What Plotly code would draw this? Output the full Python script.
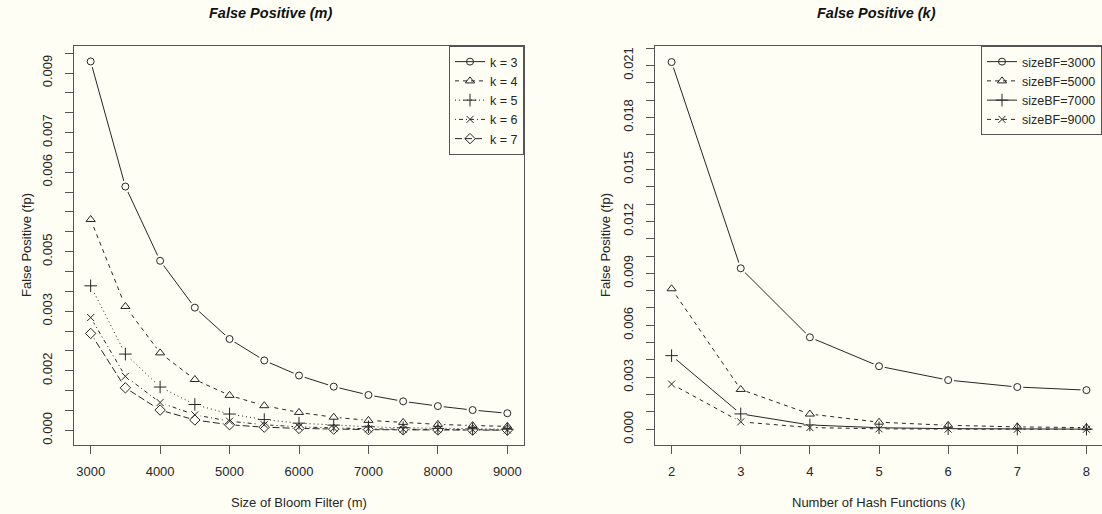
import plotly.graph_objects as go

# ---------------- data ----------------
m_values = [3000, 3500, 4000, 4500, 5000, 5500, 6000, 6500, 7000, 7500, 8000, 8500, 9000]
fp_k3 = [0.00929, 0.00614, 0.00427, 0.00309, 0.00230, 0.00176, 0.00138, 0.00110, 0.00089, 0.00073, 0.00061, 0.00051, 0.00043]
fp_k4 = [0.00531, 0.00312, 0.00195, 0.00128, 0.00088, 0.00062, 0.00045, 0.00033, 0.00025, 0.00020, 0.00015, 0.00012, 0.00010]
fp_k5 = [0.00364, 0.00192, 0.00109, 0.00065, 0.00041, 0.00027, 0.00018, 0.00013, 0.00009, 0.000065, 0.000049, 0.000037, 0.000028]
fp_k6 = [0.00284, 0.00136, 0.00070, 0.00039, 0.00023, 0.00014, 0.000086, 0.000056, 0.000038, 0.000026, 0.000018, 0.000013, 0.0000095]
fp_k7 = [0.00244, 0.00107, 0.00051, 0.00026, 0.00014, 0.000079, 0.000047, 0.000029, 0.000018, 0.000012, 0.0000079, 0.0000054, 0.0000037]
left_names = ["k = 3", "k = 4", "k = 5", "k = 6", "k = 7"]

k_values = [2, 3, 4, 5, 6, 7, 8]
fp_bf3000 = [0.02119, 0.00929, 0.00531, 0.00364, 0.00284, 0.00244, 0.00226]
fp_bf5000 = [0.00811, 0.00230, 0.00088, 0.00041, 0.00023, 0.00014, 0.000096]
fp_bf7000 = [0.00425, 0.00089, 0.00025, 0.00009, 0.000038, 0.000018, 0.0000098]
fp_bf9000 = [0.00261, 0.00043, 0.00010, 0.000028, 0.0000095, 0.0000037, 0.0000016]
right_names = ["sizeBF=3000", "sizeBF=5000", "sizeBF=7000", "sizeBF=9000"]

left_xticks = [3000, 4000, 5000, 6000, 7000, 8000, 9000]
left_ytick_vals = [0.0, 0.0005, 0.001, 0.0015, 0.002, 0.0025, 0.003, 0.0035, 0.004, 0.0045,
                   0.005, 0.0055, 0.006, 0.0065, 0.007, 0.0075, 0.008, 0.0085, 0.009, 0.0095]
left_ytick_text = ["0.000", "", "", "0.002", "", "", "0.003", "", "", "0.005",
                   "", "", "", "0.006", "", "0.007", "", "", "0.009", ""]
right_xticks = [2, 3, 4, 5, 6, 7, 8]
right_ytick_vals = [0.0, 0.001, 0.002, 0.003, 0.004, 0.005, 0.006, 0.007, 0.008, 0.009, 0.010, 0.011,
                    0.012, 0.013, 0.014, 0.015, 0.016, 0.017, 0.018, 0.019, 0.020, 0.021, 0.022]
right_ytick_text = ["0.000", "", "", "0.003", "", "", "0.006", "", "", "0.009", "", "",
                    "0.012", "", "", "0.015", "", "", "0.018", "", "", "0.021", ""]

# ---------------- style ----------------
BG = "#FEFEF4"
INK = "#262626"
AXC = "#555555"
FONT = "Liberation Sans, Arial, sans-serif"

SOLID, DASH, DOT, DOTDASH, LONGDASH = "solid", "4px,4px", "1px,3px", "1px,3px,4px,3px", "7px,3px"

left_series = [fp_k3, fp_k4, fp_k5, fp_k6, fp_k7]
left_dash = [SOLID, DASH, DOT, DOTDASH, LONGDASH]
left_sym = ["circle-open", "triangle-up-open", "cross-thin-open", "x-thin-open", "diamond-open"]
left_size = [7, 8, 9, 7, 8]

right_series = [fp_bf3000, fp_bf5000, fp_bf7000, fp_bf9000]
right_dash = [SOLID, DASH, SOLID, DASH]
right_sym = ["circle-open", "triangle-up-open", "cross-thin-open", "x-thin-open"]
right_size = [7, 8, 9, 7]

fig = go.Figure()


def add_group(xs, series, names, dashes, syms, sizes, xa, ya, legend):
    # lines with a background-coloured gap around every point (like R type="b")
    for ys, d in zip(series, dashes):
        fig.add_trace(go.Scatter(x=xs, y=ys, mode="lines", xaxis=xa, yaxis=ya,
                                 line=dict(color=INK, width=1, dash=d),
                                 showlegend=False, hoverinfo="skip"))
        fig.add_trace(go.Scatter(x=xs, y=ys, mode="markers", xaxis=xa, yaxis=ya,
                                 marker=dict(color=BG, size=12, symbol="circle", line=dict(width=0)),
                                 showlegend=False, hoverinfo="skip"))
    for ys, n, s, sz in zip(series, names, syms, sizes):
        fig.add_trace(go.Scatter(x=xs, y=ys, mode="markers", xaxis=xa, yaxis=ya, name=n,
                                 marker=dict(symbol=s, size=sz, color=INK,
                                             line=dict(color=INK, width=1)),
                                 showlegend=False))
    # legend entries
    for n, d, s, sz in zip(names, dashes, syms, sizes):
        fig.add_trace(go.Scatter(x=[None], y=[None], mode="lines+markers", xaxis=xa, yaxis=ya,
                                 name=n, legend=legend,
                                 line=dict(color=INK, width=1, dash=d),
                                 marker=dict(symbol=s, size=sz, color=INK,
                                             line=dict(color=INK, width=1))))


add_group(m_values, left_series, left_names, left_dash, left_sym, left_size, "x", "y", "legend")
add_group(k_values, right_series, right_names, right_dash, right_sym, right_size, "x2", "y2", "legend2")

# pixel geometry of the plotting area
L, T, W, H = 74, 46, 1028, 399


def px(xp):
    return (xp - L) / W


def py(yp):
    return (T + H - yp) / H


axis_common = dict(showgrid=False, zeroline=False, showline=True, linecolor=AXC, linewidth=1,
                   ticks="outside", ticklen=8, tickcolor=AXC, tickwidth=1,
                   tickfont=dict(family=FONT, size=13, color=INK))

fig.update_layout(
    width=1102, height=514,
    margin=dict(l=L, r=0, t=T, b=514 - T - H),
    paper_bgcolor=BG, plot_bgcolor=BG,
    font=dict(family=FONT, color=INK),
    xaxis=dict(domain=[0, px(524)], range=[2760, 9240], tickmode="array", tickvals=left_xticks,
               mirror=True, ticklabelstandoff=6, anchor="y", **axis_common),
    yaxis=dict(domain=[0, 1], range=[-0.00037, 0.00968], tickmode="array",
               tickvals=left_ytick_vals, ticktext=left_ytick_text, tickangle=-90,
               mirror=True, ticklabelstandoff=8, anchor="x", **axis_common),
    xaxis2=dict(domain=[px(655), 1], range=[1.76, 8.225], tickmode="array", tickvals=right_xticks,
                mirror=True, ticklabelstandoff=6, anchor="y2", **axis_common),
    yaxis2=dict(domain=[0, 1], range=[-0.000906, 0.022118], tickmode="array",
                tickvals=right_ytick_vals, ticktext=right_ytick_text, tickangle=-90,
                mirror=False, ticklabelstandoff=8, anchor="x2", **axis_common),
    legend=dict(x=px(524), xanchor="right", y=1, yanchor="top", bgcolor=BG,
                bordercolor=AXC, borderwidth=1, font=dict(family=FONT, size=12.5, color=INK),
                itemwidth=30, tracegroupgap=0),
    legend2=dict(x=1, xanchor="right", y=1, yanchor="top", bgcolor=BG,
                 bordercolor=AXC, borderwidth=1, font=dict(family=FONT, size=12.5, color=INK),
                 itemwidth=30, tracegroupgap=0),
    showlegend=True,
)

title_font = dict(family=FONT, size=14.5, color="#111111", weight="bold", style="italic")
lab_font = dict(family=FONT, size=13, color=INK)
ann = [
    dict(text="False Positive (m)", x=px(270), y=py(13), font=title_font),
    dict(text="False Positive (k)", x=px(876), y=py(13), font=title_font),
    dict(text="Size of Bloom Filter (m)", x=px(299), y=py(503), font=lab_font),
    dict(text="Number of Hash Functions (k)", x=px(878), y=py(503), font=lab_font),
    dict(text="False Positive (fp)", x=px(26), y=py(245), textangle=-90, font=lab_font),
    dict(text="False Positive (fp)", x=px(605), y=py(245), textangle=-90, font=lab_font),
]
for a in ann:
    fig.add_annotation(xref="paper", yref="paper", xanchor="center", yanchor="middle",
                       showarrow=False, **a)

fig.write_html("out.html", config={"displayModeBar": False},
               post_script="document.body.style.margin='0';document.body.style.background='%s';" % BG)
